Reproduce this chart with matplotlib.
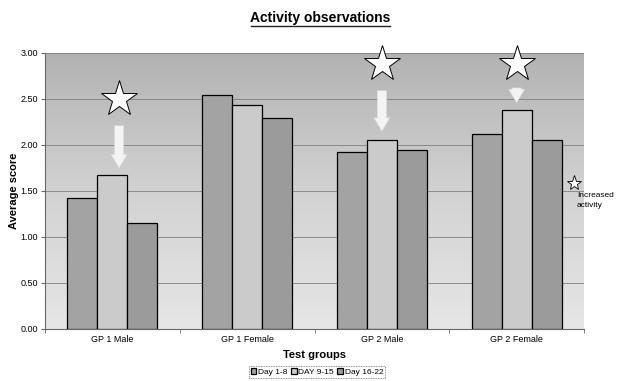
import matplotlib
matplotlib.use("Agg")
import matplotlib.pyplot as plt
import numpy as np
from matplotlib.colors import LinearSegmentedColormap

plt.rcParams['font.family'] = ['Liberation Sans', 'DejaVu Sans']

categories = ["GP 1 Male", "GP 1 Female", "GP 2 Male", "GP 2 Female"]
series_names = ["Day 1-8", "DAY 9-15", "Day 16-22"]
day_1_8 = [1.42, 2.54, 1.92, 2.12]
day_9_15 = [1.67, 2.43, 2.05, 2.38]
day_16_22 = [1.15, 2.29, 1.95, 2.05]
yticks = [0.0, 0.5, 1.0, 1.5, 2.0, 2.5, 3.0]

# stars marking increased activity: (category index, star y, arrow start, arrow end)
star_marks = [(0, 2.50, 2.24, 1.72), (2, 2.88, 2.62, 2.12), (3, 2.88, 2.65, 2.43)]
star_xshift = [0.05, 0.0, 0.0]

colors = ["#a3a3a3", "#cbcbcb", "#9b9b9b"]

fig = plt.figure(figsize=(6.31, 3.81), dpi=100)
ax = fig.add_axes([45/631, 1-329/381, 539/631, 276/381])

grad = np.linspace(0, 1, 256).reshape(-1, 1)
cmap = LinearSegmentedColormap.from_list("bg", ["#e6e6e6", "#d2d2d2", "#b2b2b2"])
ax.imshow(grad, extent=[0, 1, 0, 1], transform=ax.transAxes, cmap=cmap,
          aspect='auto', origin='lower', zorder=0)

x = np.arange(len(categories))
w = 0.2226
for i, (vals, c, name) in enumerate(zip([day_1_8, day_9_15, day_16_22], colors, series_names)):
    ax.bar(x + (i - 1) * w, vals, width=w, color=c, edgecolor="black",
           linewidth=0.9, label=name, zorder=3)

ax.set_xlim(-0.5, 3.5)
ax.set_ylim(0, 3.0)
ax.set_yticks(yticks)
ax.set_yticklabels([f"{v:.2f}" for v in yticks], fontsize=6.5)
ax.set_xticks(x)
ax.set_xticklabels(categories, fontsize=6.5)
ax.set_xticks(np.arange(-0.5, 4.0, 1.0), minor=True)
ax.tick_params(axis='x', which='major', length=0, pad=4)
ax.tick_params(axis='x', which='minor', length=3, direction='out', color='#666666')
ax.tick_params(axis='y', length=3, direction='out', pad=2, color='#666666')
ax.yaxis.grid(True, color='#808080', linewidth=0.6, zorder=1)
ax.set_axisbelow(True)
for s in ['top', 'right']:
    ax.spines[s].set_visible(False)
ax.spines['left'].set_color('#666666')
ax.spines['bottom'].set_color('#666666')

ax.set_ylabel("Average score", fontsize=8, fontweight='bold', labelpad=1)
ax.set_xlabel("Test groups", fontsize=8, fontweight='bold', labelpad=5)

for (ci, sy, a0, a1), dx in zip(star_marks, star_xshift):
    xs = ci + dx
    ax.annotate('', xy=(xs, a1), xytext=(xs, a0),
                arrowprops=dict(arrowstyle='simple,head_width=0.95,head_length=0.8,tail_width=0.55',
                                fc='#f4f4f4', ec='#dcdcdc', lw=0.5, mutation_scale=12),
                zorder=5)
    ax.plot([xs], [sy], marker='*', markersize=27, markerfacecolor='white',
            markeredgecolor='black', markeredgewidth=0.7, zorder=6, clip_on=False)

# side key
fig.lines.append(plt.Line2D([574/631], [1-183/381], marker='*', markersize=11,
                            markerfacecolor='white', markeredgecolor='black',
                            markeredgewidth=0.6, transform=fig.transFigure))
fig.text(577/631, 1-201/381, "Increased\nactivity", fontsize=6, va='center', ha='left',
         linespacing=1.6)

fig.text(320/631, 1-18/381, "Activity observations", fontsize=10, fontweight='bold',
         ha='center', va='center')
fig.lines.append(plt.Line2D([251/631, 390/631], [1-26/381, 1-26/381], color='#222222',
                            linewidth=1.0, transform=fig.transFigure))

leg = fig.legend(loc='center', bbox_to_anchor=(317/631, 1-372/381), ncol=3, fontsize=6,
                 frameon=True, fancybox=False, edgecolor='#444444', handlelength=0.7,
                 handleheight=0.7, handletextpad=0.2, columnspacing=0.4,
                 borderpad=0.25, borderaxespad=0)
leg.get_frame().set_linewidth(0.6)
leg.get_frame().set_linestyle((0, (1, 1)))

fig.savefig("out.png", dpi=100)
